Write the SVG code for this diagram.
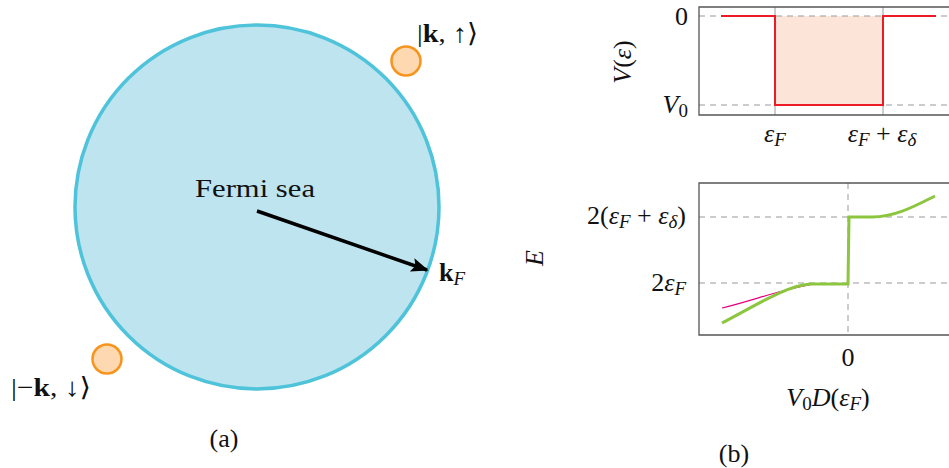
<svg xmlns="http://www.w3.org/2000/svg" width="949" height="468" viewBox="0 0 949 468">
<style>
text{font-family:"Liberation Serif","DejaVu Serif",serif;font-size:26px;fill:#111}
.i{font-style:italic}
.b{font-weight:bold}
.s{font-size:19px}
.frame{fill:none;stroke:#555;stroke-width:1.3}
.dash{stroke:#999;stroke-width:1;stroke-dasharray:6 5;fill:none}
.grid{stroke:#999;stroke-width:1;fill:none}
.dot{fill:#fdd8b0;stroke:#f7941d;stroke-width:2.5}
</style>
<defs>
<marker id="ah" viewBox="0 0 10 10" refX="9" refY="5" markerWidth="5" markerHeight="5" orient="auto" markerUnits="strokeWidth">
<path d="M0,1 L10,5 L0,9 L2,5 Z" fill="#000"/>
</marker>
</defs>
<g id="panel-a">
<g id="fermi-sea">
<circle cx="257" cy="207" r="182" fill="#bde4ef" stroke="#4ec3d9" stroke-width="3.5"/>
<text x="195" y="197" font-size="27" textLength="120" lengthAdjust="spacingAndGlyphs">Fermi sea</text>
</g>
<g id="connectors">
<line x1="257" y1="211" x2="427" y2="270" stroke="#000" stroke-width="3.5" marker-end="url(#ah)"/>
</g>
<g id="kF-label"><text x="439" y="281"><tspan class="b">k</tspan><tspan class="i s" dy="4">F</tspan></text></g>
<g id="k-up">
<circle class="dot" cx="406" cy="61" r="14.5"/>
<text x="417" y="42" textLength="61" lengthAdjust="spacingAndGlyphs">|<tspan class="b">k</tspan>, ↑⟩</text>
</g>
<g id="k-down">
<circle class="dot" cx="107" cy="359" r="14.5"/>
<text x="11" y="396" textLength="80" lengthAdjust="spacingAndGlyphs">|−<tspan class="b">k</tspan>, ↓⟩</text>
</g>
<text x="224" y="447" text-anchor="middle" font-size="22">(a)</text>
</g>
<g id="plot-top">
<rect x="775" y="16" width="108" height="89" fill="#fce4d8"/>
<line class="dash" x1="699" y1="16" x2="949" y2="16"/>
<line class="dash" x1="699" y1="105" x2="949" y2="105"/>
<line class="grid" x1="775" y1="7" x2="775" y2="115"/>
<line class="grid" x1="883" y1="7" x2="883" y2="115"/>
<polyline points="721,16 775,16 775,105 883,105 883,16 936,16" fill="none" stroke="#ed1c24" stroke-width="2"/>
<path class="frame" d="M952,7 H699 V115 H952"/>
<text x="688" y="25" text-anchor="end">0</text>
<text x="688" y="113" text-anchor="end"><tspan class="i">V</tspan><tspan class="s" dy="4">0</tspan></text>
<text transform="translate(631,62) rotate(-90)" text-anchor="middle"><tspan class="i">V</tspan>(<tspan class="i">ε</tspan>)</text>
<text x="775" y="142" text-anchor="middle"><tspan class="i">ε</tspan><tspan class="i s" dy="4">F</tspan></text>
<text x="882" y="142" text-anchor="middle"><tspan class="i">ε</tspan><tspan class="i s" dy="4">F</tspan><tspan dy="-4"> + </tspan><tspan class="i">ε</tspan><tspan class="i s" dy="4">δ</tspan></text>
</g>
<g id="plot-bottom">
<line class="dash" x1="699" y1="217" x2="949" y2="217"/>
<line class="dash" x1="699" y1="283" x2="949" y2="283"/>
<line class="dash" x1="848" y1="183" x2="848" y2="335"/>
<path d="M722,308 C755,300 785,288 815,284 L848,284" fill="none" stroke="#e6007e" stroke-width="1.2"/>
<path d="M722,323 C755,306 785,286 810,284 L848,284 L849,217 L872,217 C895,217 915,206 935,196" fill="none" stroke="#8cc63f" stroke-width="3"/>
<path class="frame" d="M952,183 H699 V335 H952"/>
<text x="686" y="224" text-anchor="end">2(<tspan class="i">ε</tspan><tspan class="i s" dy="4">F</tspan><tspan dy="-4"> + </tspan><tspan class="i">ε</tspan><tspan class="i s" dy="4">δ</tspan><tspan dy="-4">)</tspan></text>
<text x="686" y="291" text-anchor="end">2<tspan class="i">ε</tspan><tspan class="i s" dy="4">F</tspan></text>
<text transform="translate(543,258) rotate(-90)" text-anchor="middle" class="i">E</text>
<text x="848" y="366" text-anchor="middle">0</text>
<text x="828" y="406" text-anchor="middle"><tspan class="i">V</tspan><tspan class="s" dy="4">0</tspan><tspan class="i" dy="-4">D</tspan>(<tspan class="i">ε</tspan><tspan class="i s" dy="4">F</tspan><tspan dy="-4">)</tspan></text>
<text x="734" y="462" text-anchor="middle" font-size="22">(b)</text>
</g>
</svg>
